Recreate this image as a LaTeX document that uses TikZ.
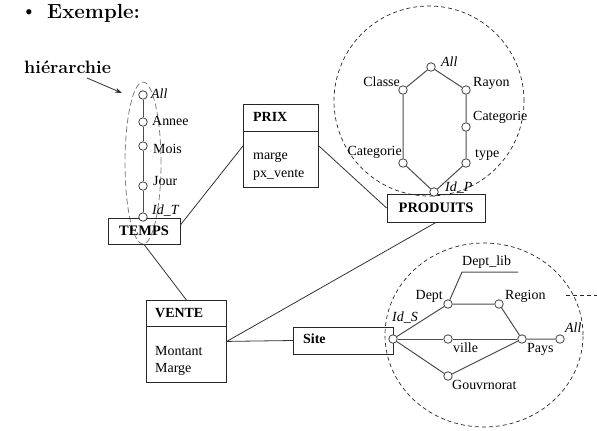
\documentclass[tikz,border=0pt]{standalone}
\usepackage{fontspec}
\newfontfamily\tnr{Liberation Serif}
\usetikzlibrary{arrows.meta}
\begin{document}
\begin{tikzpicture}[x=1bp,y=-1bp,
  lbl/.style={inner sep=0pt, font=\tnr\fontsize{14}{16}\selectfont, text height=9.5bp, text depth=3bp},
  ilbl/.style={lbl, font=\tnr\itshape\fontsize{14}{16}\selectfont},
  blbl/.style={lbl, font=\tnr\bfseries\fontsize{14}{16}\selectfont},
  pt/.style={circle, draw=black!75, fill=white, line width=0.8bp, minimum size=8.5bp, inner sep=0pt},
  hedge/.style={draw=black!70, line width=1bp},
  link/.style={draw=black!80, line width=0.8bp},
  entity/.style={draw=black!85, line width=0.8bp, inner sep=0pt},
  zone/.style={draw=black!85, line width=0.7bp, dash pattern=on 4bp off 3bp},
  ]
\useasboundingbox (0,0) rectangle (597,430);

% heading
\node[anchor=base, inner sep=0pt, font=\tnr\fontsize{22}{24}\selectfont] (bul) at (29,19) {•};
\node[anchor=base west, inner sep=0pt, font=\bfseries\fontsize{20.5}{24}\selectfont] (ttl) at (47,18) {Exemple:};
\node[anchor=base west, inner sep=0pt, font=\bfseries\fontsize{18}{22}\selectfont] (hier) at (24,73) {hiérarchie};
\coordinate (hstart) at (87,78);
\coordinate (hend) at (122,93);
\draw[link, -{Stealth[length=7bp,width=5bp]}] (hstart) -- (hend);

% dashed groupings
\draw[draw=black!50, line width=0.8bp, dash pattern=on 6bp off 3bp] (143,163) ellipse [x radius=18bp, y radius=81bp];
\draw[zone] (429,101) circle [radius=95bp];
\draw[zone] (484,335) ellipse [x radius=99bp, y radius=92bp];
\coordinate (gA) at (566,295);
\coordinate (gB) at (597,295);
\draw[zone] (gA) -- (gB);

% entities
\node[entity, minimum width=72bp, minimum height=26bp, font=\tnr\bfseries\fontsize{14.5}{16}\selectfont] (temps) at (144,231) {TEMPS};
\node[entity, minimum width=98bp, minimum height=28bp, font=\tnr\bfseries\fontsize{14.5}{16}\selectfont] (prod) at (436,208) {PRODUITS};

\node[entity, minimum width=75bp, minimum height=83bp, anchor=north west] (prix) at (243,104) {};
\draw[entity] ([yshift=-27bp]prix.north west) -- ([yshift=-27bp]prix.north east);
\node[blbl, anchor=west] (prixT) at (253,118) {PRIX};
\node[lbl, anchor=west] (prixA) at (253,156) {marge};
\node[lbl, anchor=west] (prixB) at (253,174) {px\_vente};

\node[entity, minimum width=80bp, minimum height=82bp, anchor=north west] (vente) at (146,300) {};
\draw[entity] ([yshift=-26bp]vente.north west) -- ([yshift=-26bp]vente.north east);
\node[blbl, anchor=west] (venteT) at (155,314) {VENTE};
\node[lbl, anchor=west] (venteA) at (155,352) {Montant};
\node[lbl, anchor=west] (venteB) at (155,369) {Marge};

\node[entity, minimum width=100bp, minimum height=27bp, anchor=west] (site) at (293,340.5) {};
\node[blbl, anchor=west] (siteT) at (303,340) {Site};

% links between entities
\draw[link] ([yshift=6bp]temps.east) -- (prix.west);
\draw[link] (prix.east) -- (prod.west);
\draw[link] (temps.south) -- (vente.north);
\draw[link] (vente.east) -- (site.west);
\draw[link] (vente.east) -- (prod.south);

% time hierarchy
\node[pt] (tAll) at (143,95) {};
\node[pt] (tAn) at (143,122) {};
\node[pt] (tMo) at (143,146) {};
\node[pt] (tJo) at (143,186) {};
\node[pt] (tId) at (143,217) {};
\draw[hedge] (tAll) -- (tAn) -- (tMo) -- (tJo) -- (tId);
\node[ilbl, anchor=west] at (151,95) {All};
\node[lbl, anchor=west] at (152,122) {Annee};
\node[lbl, anchor=west] at (153,150) {Mois};
\node[lbl, anchor=west] at (153,182) {Jour};
\node[ilbl, anchor=west] at (152,211) {Id\_T};

% product hierarchy
\node[pt] (pAll) at (431,67) {};
\node[pt] (pCl) at (403,90) {};
\node[pt] (pRa) at (466,90) {};
\node[pt] (pCa2) at (466,127) {};
\node[pt] (pTy) at (466,163) {};
\node[pt] (pCa1) at (403,163) {};
\node[pt] (pId) at (434,192) {};
\draw[hedge] (pAll) -- (pCl) -- (pCa1) -- (pId);
\draw[hedge] (pAll) -- (pRa) -- (pCa2) -- (pTy) -- (pId);
\node[ilbl, anchor=west] at (441,63) {All};
\node[lbl, anchor=east] at (400,83) {Classe};
\node[lbl, anchor=west] at (473,83) {Rayon};
\node[lbl, anchor=west] at (473,117) {Categorie};
\node[lbl, anchor=west] at (475,154) {type};
\node[lbl, anchor=east] at (402,152) {Categorie};
\node[ilbl, anchor=west] at (445,188) {Id\_P};

% site hierarchy
\node[pt] (sId) at (393,339) {};
\node[pt] (sDe) at (448,304) {};
\node[pt] (sRe) at (499,304) {};
\node[pt] (sVi) at (448,339) {};
\node[pt] (sPa) at (522,339) {};
\node[pt] (sAl) at (560,339) {};
\node[pt] (sGo) at (448,376) {};
\coordinate (dl) at (462,272);
\coordinate (dle) at (518,272);
\draw[hedge] (sId) -- (sDe) -- (sRe) -- (sPa) -- (sAl);
\draw[hedge] (sId) -- (sVi) -- (sPa);
\draw[hedge] (sId) -- (sGo) -- (sPa);
\draw[hedge] (sDe) -- (dl) -- (dle);
\node[lbl, anchor=west] at (462,262) {Dept\_lib};
\node[lbl, anchor=east] at (443,296) {Dept};
\node[lbl, anchor=west] at (505,296) {Region};
\node[ilbl, anchor=west] at (392,318) {Id\_S};
\node[ilbl, anchor=west] at (565,329) {All};
\node[lbl, anchor=west] at (453,349) {ville};
\node[lbl, anchor=west] at (527,349) {Pays};
\node[lbl, anchor=west] at (452,386) {Gouvrnorat};
\end{tikzpicture}
\end{document}
